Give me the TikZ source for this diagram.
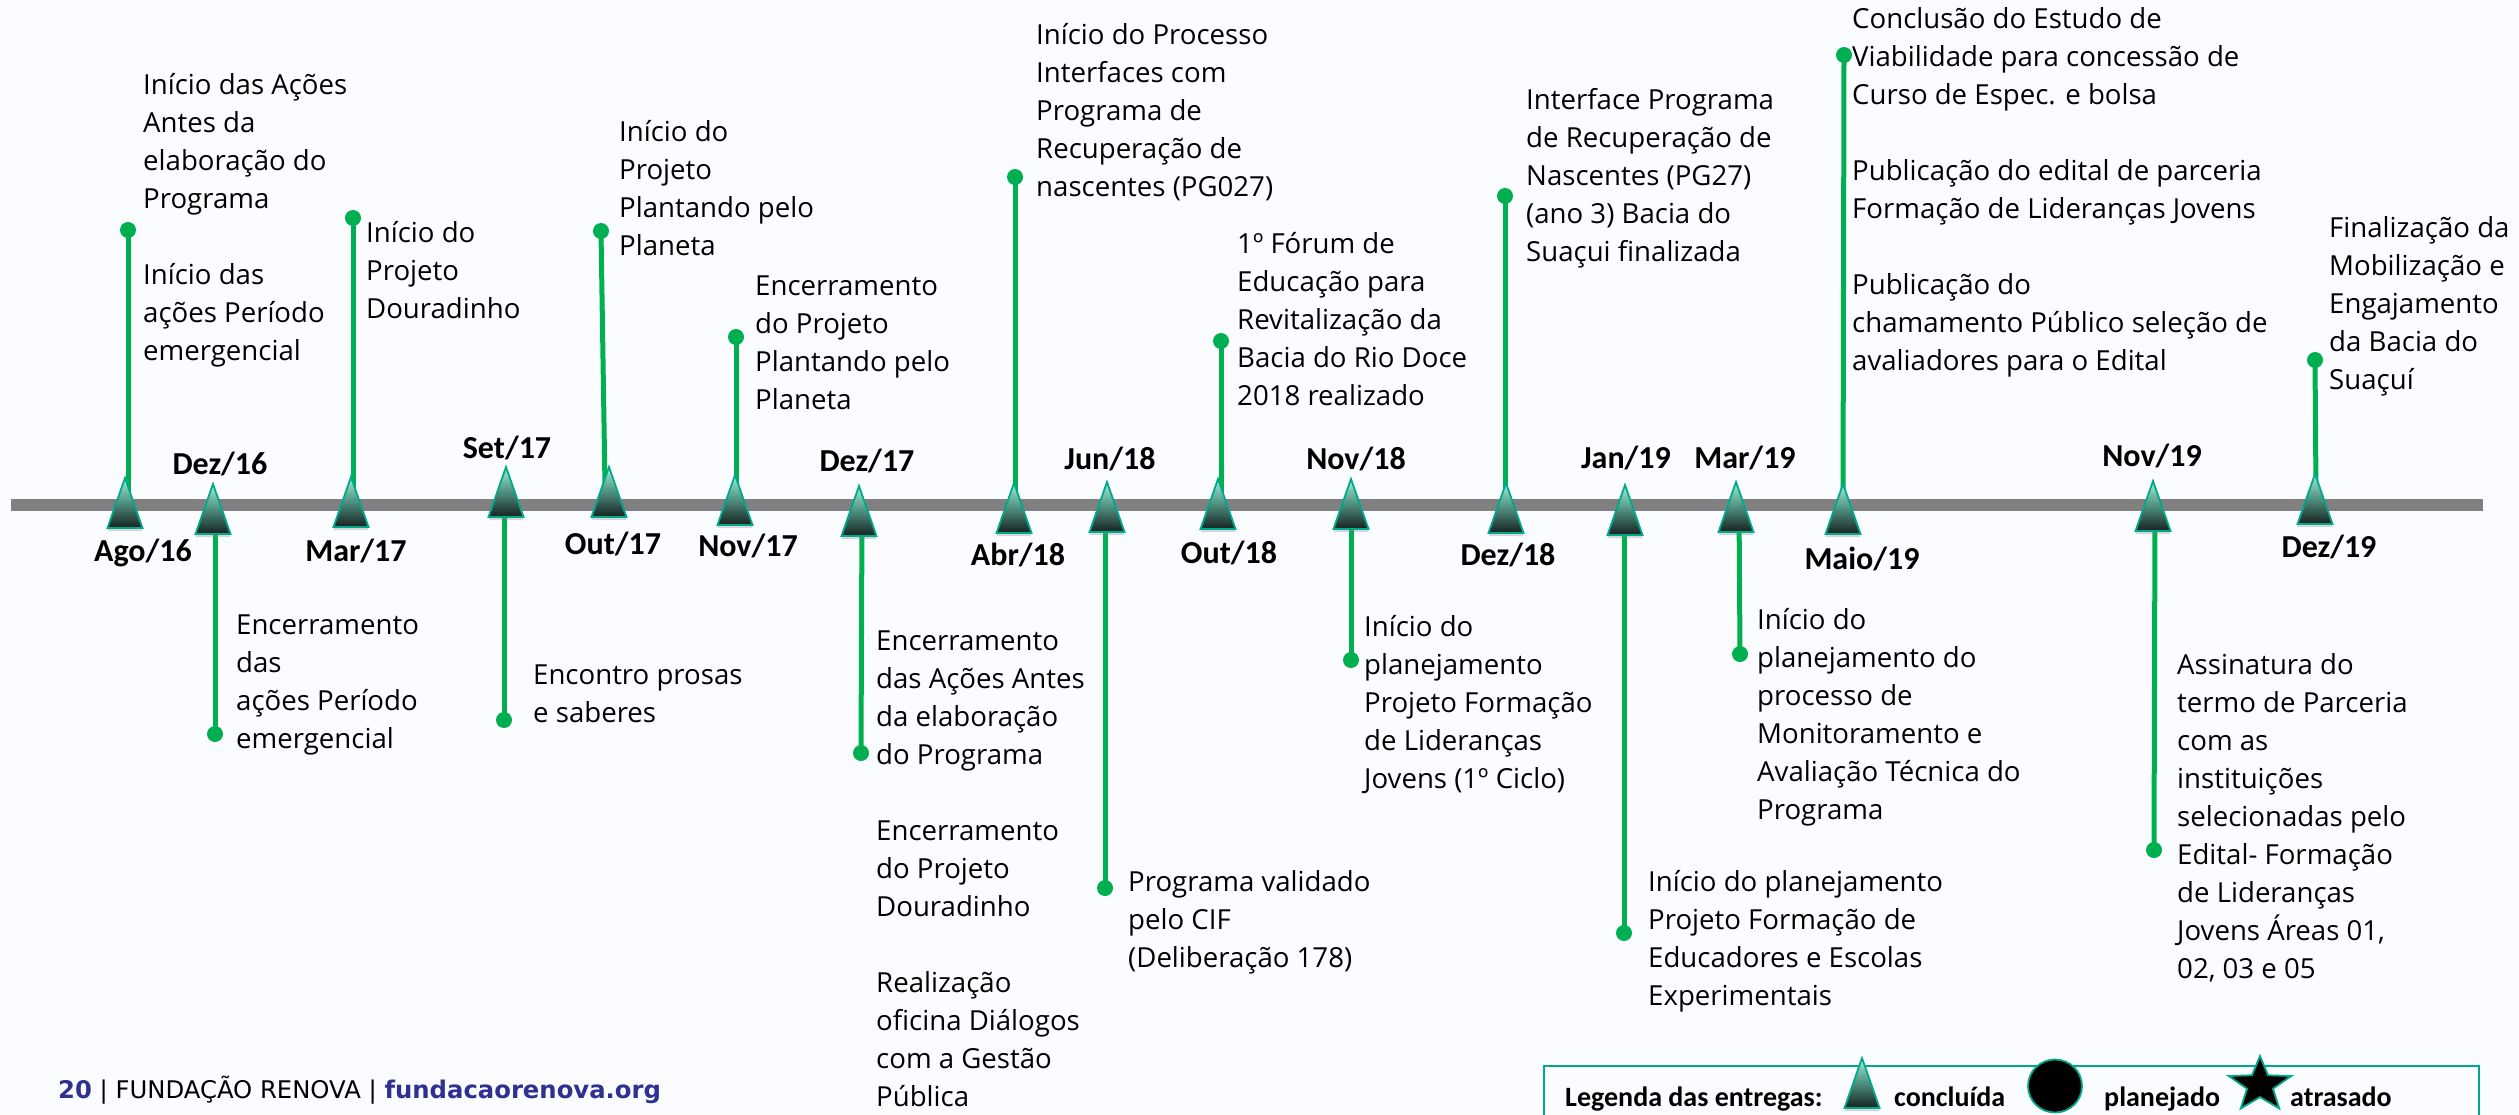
\documentclass[tikz,border=0pt]{standalone}
\usepackage{fontspec}
\setmainfont{Open Sans}
\newfontfamily\carl{Carlito}
\newfontfamily\dejav{DejaVu Sans}
\usetikzlibrary{shapes.geometric,shadows,calc}
\definecolor{pagebg}{HTML}{FBFCFF}
\definecolor{axisgray}{HTML}{808080}
\definecolor{conngreen}{HTML}{00B050}
\definecolor{teal}{HTML}{00A88C}
\definecolor{renovablue}{HTML}{2E3192}
\definecolor{tritop}{HTML}{A0F0D8}
\definecolor{trimid}{HTML}{4E8E7E}
\definecolor{tribot}{HTML}{16211F}
\pgfdeclarelayer{lines}
\pgfsetlayers{lines,main}
\tikzset{
  x=1pt,y=-1pt,
  tri/.style={isosceles triangle,isosceles triangle stretches,shape border rotate=90,anchor=apex,
    minimum width=35pt,minimum height=50pt,inner sep=0pt,outer sep=0pt,draw=teal,line width=1.8pt,
    top color=tritop,bottom color=tribot,middle color=trimid,
    drop shadow={opacity=.3,shadow xshift=0pt,shadow yshift=-3pt}},
  dot/.style={circle,fill=conngreen,minimum size=16pt,inner sep=0pt,outer sep=0pt},
  conn/.style={draw=conngreen,line width=5pt},
  date/.style={font=\carl\bfseries\fontsize{32}{38}\selectfont,inner sep=0pt,anchor=center},
  txt/.style={font=\fontsize{27.6}{38}\selectfont,anchor=north west,align=left,inner sep=0pt},
  leg/.style={font=\carl\bfseries\fontsize{28}{34}\selectfont,inner sep=0pt,anchor=base west},
}
\begin{document}
\begin{tikzpicture}
\useasboundingbox (0,0) rectangle (2519,1114);
% triangles
\node[tri] (t1) at (125,478) {};
\node[tri] (t2) at (213,484) {};
\node[tri] (t3) at (351,477) {};
\node[tri] (t4) at (506,467) {};
\node[tri] (t5) at (609,467) {};
\node[tri] (t6) at (735,475) {};
\node[tri] (t7) at (859,486) {};
\node[tri] (t8) at (1014,483) {};
\node[tri] (t9) at (1107,482) {};
\node[tri] (t10) at (1218,479) {};
\node[tri] (t11) at (1351,479) {};
\node[tri] (t12) at (1506,483) {};
\node[tri] (t13) at (1625,485) {};
\node[tri] (t14) at (1736,482) {};
\node[tri] (t15) at (1843,484) {};
\node[tri] (t16) at (2153,481) {};
\node[tri] (t17) at (2315,474) {};
% dots
\node[dot] (d1) at (128,230) {};
\node[dot] (d2) at (215,734) {};
\node[dot] (d3) at (353,218) {};
\node[dot] (d4) at (504,720) {};
\node[dot] (d5) at (601,231) {};
\node[dot] (d6) at (736,337) {};
\node[dot] (d7) at (861,753) {};
\node[dot] (d8) at (1015,177) {};
\node[dot] (d9) at (1105,888) {};
\node[dot] (d10) at (1221,341) {};
\node[dot] (d11) at (1351,660) {};
\node[dot] (d12) at (1505,196) {};
\node[dot] (d13) at (1624,933) {};
\node[dot] (d14) at (1740,654) {};
\node[dot] (d15) at (1844,55) {};
\node[dot] (d16) at (2154,850) {};
\node[dot] (d17) at (2315,360) {};
% dates
\node[date] (l1) at (143,553) {Ago/16};
\node[date] (l2) at (220,464) {Dez/16};
\node[date] (l3) at (356,551) {Mar/17};
\node[date] (l4) at (507,448) {Set/17};
\node[date] (l5) at (613,544) {Out/17};
\node[date] (l6) at (748,546) {Nov/17};
\node[date] (l7) at (867,461) {Dez/17};
\node[date] (l8) at (1018,555) {Abr/18};
\node[date] (l9) at (1110,459) {Jun/18};
\node[date] (l10) at (1229,553) {Out/18};
\node[date] (l11) at (1356,459) {Nov/18};
\node[date] (l12) at (1508,555) {Dez/18};
\node[date] (l13) at (1626,458) {Jan/19};
\node[date] (l14) at (1745,458) {Mar/19};
\node[date] (l15) at (1862,559) {Maio/19};
\node[date] (l16) at (2152,456) {Nov/19};
\node[date] (l17) at (2329,547) {Dez/19};
% texts
\node[txt] (x1) at (143,68) {\strut Início das Ações\\Antes da\\elaboração do\\Programa\\[38pt]Início das\\ações Período\\emergencial};
\node[txt] (x2) at (236,608) {\strut Encerramento\\das\\ações Período\\emergencial};
\node[txt] (x3) at (366,216) {\strut Início do\\Projeto\\Douradinho};
\node[txt] (x4) at (533,658) {\strut Encontro prosas\\e saberes};
\node[txt] (x5) at (619,115) {\strut Início do\\Projeto\\Plantando pelo\\Planeta};
\node[txt] (x6) at (755,269) {\strut Encerramento\\do Projeto\\Plantando pelo\\Planeta};
\node[txt] (x7) at (876,624) {\strut Encerramento\\das Ações Antes\\da elaboração\\do Programa\\[38pt]Encerramento\\do Projeto\\Douradinho\\[38pt]Realização\\oficina Diálogos\\com a Gestão\\Pública};
\node[txt] (x8) at (1036,18) {\strut Início do Processo\\Interfaces com\\Programa de\\Recuperação de\\nascentes (PG027)};
\node[txt] (x9) at (1128,865) {\strut Programa validado\\pelo CIF\\(Deliberação 178)};
\node[txt] (x10) at (1237,227) {\strut 1º Fórum de\\Educação para\\Revitalização da\\Bacia do Rio Doce\\2018 realizado};
\node[txt] (x11) at (1364,610) {\strut Início do\\planejamento\\Projeto Formação\\de Lideranças\\Jovens (1º Ciclo)};
\node[txt] (x12) at (1526,83) {\strut Interface Programa\\de Recuperação de\\Nascentes (PG27)\\(ano 3) Bacia do\\Suaçui finalizada};
\node[txt] (x13) at (1648,865) {\strut Início do planejamento\\Projeto Formação de\\Educadores e Escolas\\Experimentais};
\node[txt] (x14) at (1757,603) {\strut Início do\\planejamento do\\processo de\\Monitoramento e\\Avaliação Técnica do\\Programa};
\node[txt] (x15) at (1852,2) {\strut Conclusão do Estudo de\\Viabilidade para concessão de\\Curso de Espec. e bolsa\\[38pt]Publicação do edital de parceria\\Formação de Lideranças Jovens\\[38pt]Publicação do\\chamamento Público seleção de\\avaliadores para o Edital};
\node[txt] (x16) at (2177,648) {\strut Assinatura do\\termo de Parceria\\com as\\instituições\\selecionadas pelo\\Edital- Formação\\de Lideranças\\Jovens Áreas 01,\\02, 03 e 05};
\node[txt] (x17) at (2329,211) {\strut Finalização da\\Mobilização e\\Engajamento\\da Bacia do\\Suaçuí};
% footer
\node[font=\dejav\fontsize{24.3}{28}\selectfont,anchor=west,inner sep=0pt] (foot) at (58,1090) {\textcolor{renovablue}{\bfseries 20} | FUNDAÇÃO RENOVA | \textcolor{renovablue}{\bfseries fundacaorenova.org}};
% legend
\coordinate (legA) at (1544,1066);
\coordinate (legB) at (2479,1125);
\node[leg] (lg1) at (1565,1106) {Legenda das entregas:};
\node[leg] (lg2) at (1894,1106) {concluída};
\node[leg] (lg3) at (2104,1106) {planejado};
\node[leg] (lg4) at (2290,1106) {atrasado};
\node[tri] (ltri) at (1862,1058) {};
\node[ellipse,draw=teal,line width=1.8pt,fill=black,minimum width=54pt,minimum height=53pt,inner sep=0pt] (lell) at (2055,1086) {};
\node[star,star points=5,star point ratio=2.4,draw=teal,line width=1.8pt,fill=black,minimum size=58pt,inner sep=0pt,xscale=1.13,transform shape] (lstar) at (2260,1085) {};
\begin{pgfonlayer}{lines}
\fill[pagebg] (0,0) rectangle (2519,1114);
\coordinate (axL) at (11,505);
\coordinate (axR) at (2483,505);
\draw[axisgray,line width=12pt] (axL) -- (axR);
\draw[teal,line width=2pt] (legA) rectangle (legB);
\draw[conn] (d1.center) -- ($(t1.apex)+(3,20)$);
\draw[conn] (d2.center) -- ($(t2.apex)+(2,25)$);
\draw[conn] (d3.center) -- ($(t3.apex)+(2,20)$);
\draw[conn] (d4.center) -- ($(t4.apex)+(-2,25)$);
\draw[conn] (d5.center) -- ($(t5.apex)+(-4,20)$);
\draw[conn] (d6.center) -- ($(t6.apex)+(1,20)$);
\draw[conn] (d7.center) -- ($(t7.apex)+(3,25)$);
\draw[conn] (d8.center) -- ($(t8.apex)+(1,20)$);
\draw[conn] (d9.center) -- ($(t9.apex)+(-2,25)$);
\draw[conn] (d10.center) -- ($(t10.apex)+(3,20)$);
\draw[conn] (d11.center) -- ($(t11.apex)+(0,25)$);
\draw[conn] (d12.center) -- ($(t12.apex)+(-1,20)$);
\draw[conn] (d13.center) -- ($(t13.apex)+(-1,25)$);
\draw[conn] (d14.center) -- ($(t14.apex)+(3,25)$);
\draw[conn] (d15.center) -- ($(t15.apex)+(0,20)$);
\draw[conn] (d16.center) -- ($(t16.apex)+(2,25)$);
\draw[conn] (d17.center) -- ($(t17.apex)+(1,20)$);
\end{pgfonlayer}
\end{tikzpicture}
\end{document}
